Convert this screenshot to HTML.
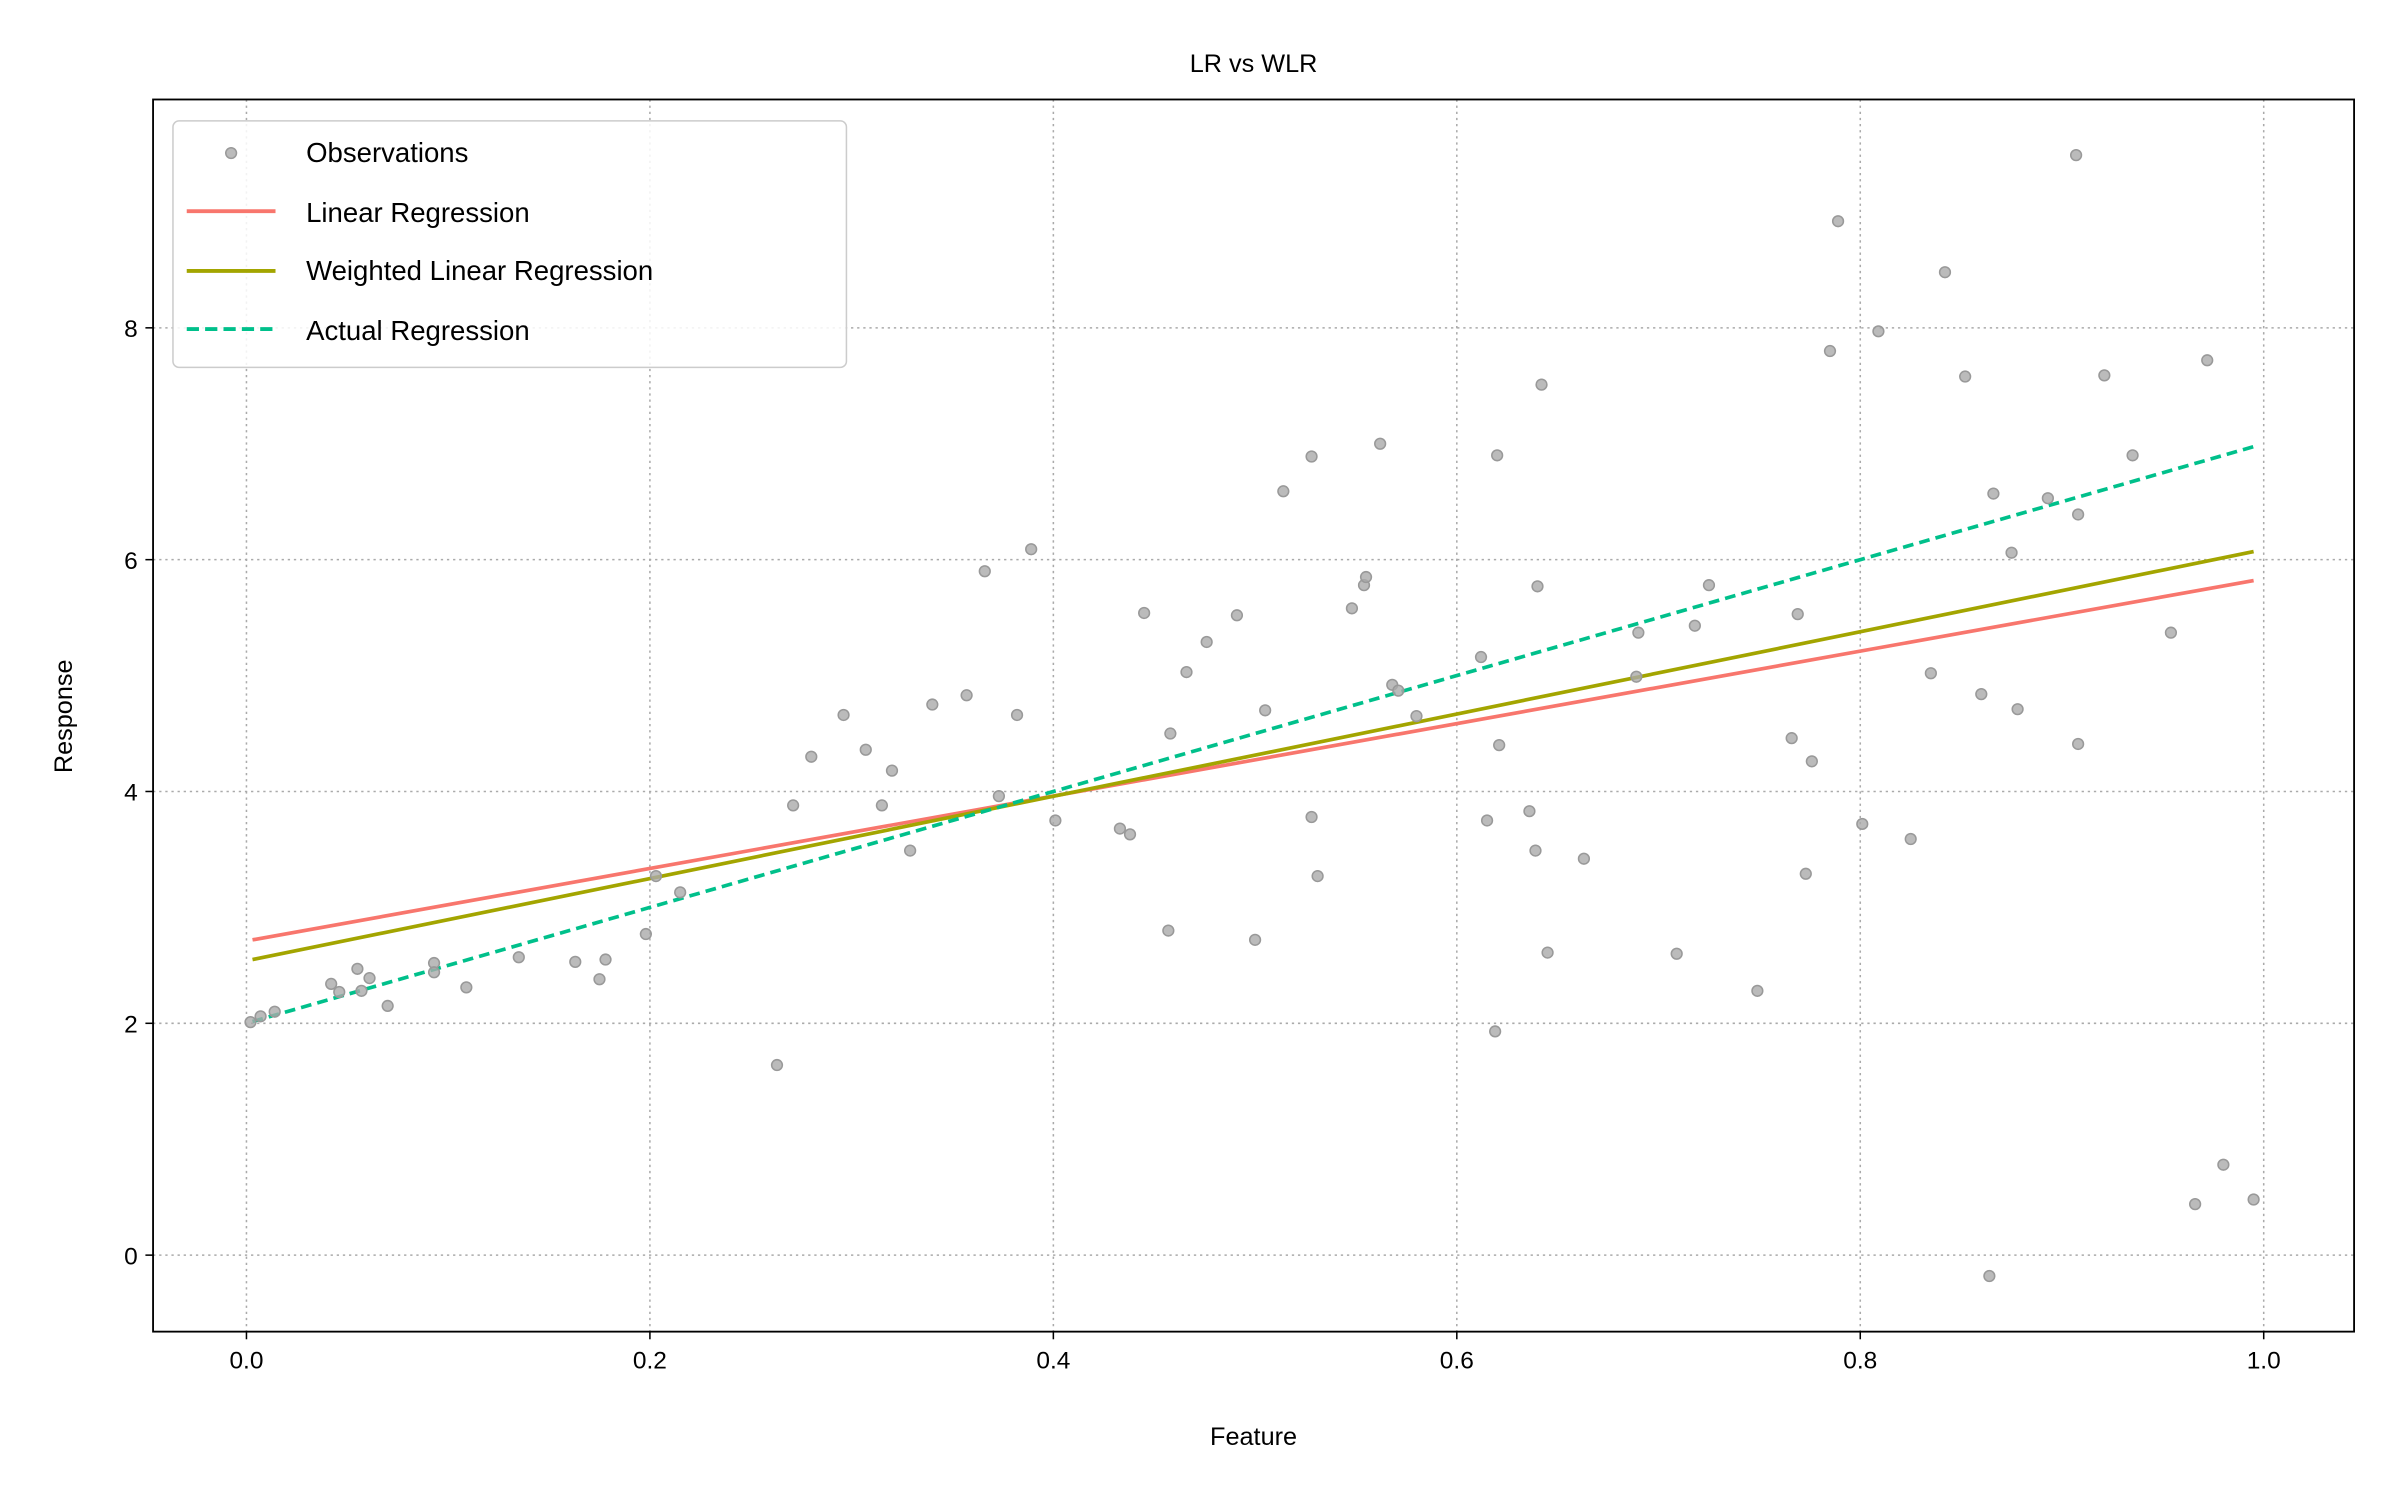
<!DOCTYPE html>
<html><head><meta charset="utf-8"><style>
html,body{margin:0;padding:0;background:#fff;}
svg{display:block;font-family:"Liberation Sans",Arial,sans-serif;}
</style></head><body>
<svg id="chart" width="2400" height="1500" viewBox="0 0 1568 980" xmlns="http://www.w3.org/2000/svg">
<rect width="1568" height="980" fill="#fff"/>
<g id="grid"></g>
<g id="lines"></g>
<g id="points"></g>
<rect x="100" y="65" width="1438" height="805" fill="none" stroke="#000" stroke-width="1.2"/>
<g id="ticks" font-size="16" fill="#000"></g>
<text x="819" y="47" font-size="16.5" text-anchor="middle">LR vs WLR</text>
<text x="819" y="944" font-size="16.5" text-anchor="middle">Feature</text>
<text transform="translate(47,468) rotate(-90)" font-size="16.5" text-anchor="middle">Response</text>
<g>
<rect x="113" y="79" width="440" height="161" rx="4" fill="#fff" fill-opacity="0.85" stroke="#ccc" stroke-width="1"/>
<g><circle cx="151" cy="100" r="3.5" fill="#aaa" fill-opacity="0.8" stroke="#999" stroke-width="1"/><text x="200" y="106" font-size="18">Observations</text></g>
<g><line x1="122" y1="138" x2="180" y2="138" stroke="#f8766d" stroke-width="2.5"/><text x="200" y="145" font-size="18">Linear Regression</text></g>
<g><line x1="122" y1="177" x2="180" y2="177" stroke="#a3a500" stroke-width="2.5"/><text x="200" y="183" font-size="18">Weighted Linear Regression</text></g>
<g><line x1="122" y1="215" x2="180" y2="215" stroke="#00c08b" stroke-width="2.5" stroke-dasharray="8,4"/><text x="200" y="222" font-size="18">Actual Regression</text></g>
</g>
</svg>
<script>
const obsX=[0.002,0.007,0.014,0.042,0.046,0.055,0.057,0.061,0.070,0.093,0.093,0.109,0.135,0.163,0.175,0.178,0.198,0.203,0.215,0.263,0.271,0.280,0.296,0.307,0.315,0.320,0.329,0.340,0.357,0.366,0.373,0.382,0.389,0.401,0.433,0.438,0.445,0.457,0.458,0.466,0.476,0.491,0.500,0.505,0.514,0.528,0.528,0.531,0.548,0.554,0.555,0.562,0.568,0.571,0.580,0.612,0.615,0.619,0.620,0.621,0.636,0.639,0.640,0.642,0.645,0.663,0.689,0.690,0.709,0.718,0.725,0.749,0.766,0.769,0.773,0.776,0.785,0.789,0.801,0.809,0.825,0.835,0.842,0.852,0.860,0.864,0.866,0.875,0.878,0.893,0.907,0.908,0.908,0.921,0.935,0.954,0.966,0.972,0.980,0.995];
const obsY=[2.01,2.06,2.10,2.34,2.27,2.47,2.28,2.39,2.15,2.52,2.44,2.31,2.57,2.53,2.38,2.55,2.77,3.27,3.13,1.64,3.88,4.30,4.66,4.36,3.88,4.18,3.49,4.75,4.83,5.90,3.96,4.66,6.09,3.75,3.68,3.63,5.54,2.80,4.50,5.03,5.29,5.52,2.72,4.70,6.59,6.89,3.78,3.27,5.58,5.78,5.85,7.00,4.92,4.87,4.65,5.16,3.75,1.93,6.90,4.40,3.83,3.49,5.77,7.51,2.61,3.42,4.99,5.37,2.60,5.43,5.78,2.28,4.46,5.53,3.29,4.26,7.80,8.92,3.72,7.97,3.59,5.02,8.48,7.58,4.84,-0.18,6.57,6.06,4.71,6.53,9.49,6.39,4.41,7.59,6.90,5.37,0.44,7.72,0.78,0.48];
const lineStartX=[0.003,0.003,0.003];
const lineEndX=[0.995,0.995,0.995];
const lrY=[2.72,5.82];
const wlrY=[2.55,6.07];
const actualY=[2.015,6.975];
const xTicks=[0,0.2,0.4,0.6,0.8,1.0];
const xTickLabels=["0.0","0.2","0.4","0.6","0.8","1.0"];
const yTicks=[0,2,4,6,8];
const yTickLabels=["0","2","4","6","8"];

const L=100,R=1538,T=65,B=870;
const xMin=-0.0463,xMax=1.0448,yMin=-0.66,yMax=9.97;
const sx=v=>L+(v-xMin)/(xMax-xMin)*(R-L);
const sy=v=>B-(v-yMin)/(yMax-yMin)*(B-T);
const NS="http://www.w3.org/2000/svg";
function mk(tag,parent,attrs){const e=document.createElementNS(NS,tag);for(const k in attrs)e.setAttribute(k,attrs[k]);parent.appendChild(e);return e;}
const grid=document.getElementById('grid'),ticks=document.getElementById('ticks');
xTicks.forEach((t,i)=>{
  const g=mk('line',grid,{x1:sx(t),x2:sx(t),y1:T,y2:B,stroke:'#aaa','stroke-width':1,'stroke-dasharray':'1.5,2.5'});
  
  
  const tk=mk('line',ticks,{x1:sx(t),x2:sx(t),y1:B,y2:B+5,stroke:'#000','stroke-width':1});
  
  
  const tl=mk('text',ticks,{x:sx(t),y:B+24,'text-anchor':'middle'});
  tl.textContent=xTickLabels[i];
  
  
});
yTicks.forEach((t,i)=>{
  const g=mk('line',grid,{x1:L,x2:R,y1:sy(t),y2:sy(t),stroke:'#aaa','stroke-width':1,'stroke-dasharray':'1.5,2.5'});
  
  
  const tk=mk('line',ticks,{x1:L-5,x2:L,y1:sy(t),y2:sy(t),stroke:'#000','stroke-width':1});
  
  
  const tl=mk('text',ticks,{x:L-10,y:sy(t)+6,'text-anchor':'end'});
  tl.textContent=yTickLabels[i];
  
  
});
const lines=document.getElementById('lines');
const specs=[[lrY,'#f8766d',null,'linear-regression-line',0],[wlrY,'#a3a500',null,'weighted-linear-regression-line',1],[actualY,'#00c08b','7,4','actual-regression-line',2]];
specs.forEach(s=>{
  const a={x1:sx(lineStartX[s[4]]),y1:sy(s[0][0]),x2:sx(lineEndX[s[4]]),y2:sy(s[0][1]),stroke:s[1],'stroke-width':2.4};
  if(s[2])a['stroke-dasharray']=s[2];
  const l=mk('line',lines,a);
  
  
});
const pts=document.getElementById('points');
obsX.forEach((x,i)=>{
  const c=mk('circle',pts,{cx:sx(x),cy:sy(obsY[i]),r:3.5,fill:'#aaa','fill-opacity':0.8,stroke:'#999','stroke-width':1});
  
  
});
</script>
</body></html>
